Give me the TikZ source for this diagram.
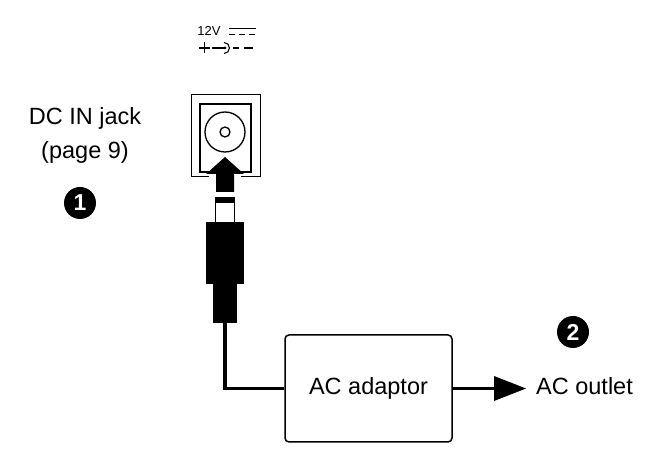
\documentclass[tikz,border=0pt]{standalone}
\usepackage{fontspec}
\setmainfont{Liberation Sans}
\begin{document}
\begin{tikzpicture}[x=1pt,y=-1pt,
  lbl/.style={font=\fontsize{23.5}{26}\selectfont, inner sep=0pt},
  num/.style={circle,fill=black,text=white,minimum size=32pt,inner sep=0pt,font=\bfseries\fontsize{23}{23}\selectfont},
  blk/.style={fill=black,draw=none}]
\useasboundingbox (0,0) rectangle (649,454);
% power symbol
\node[inner sep=0pt,font=\fontsize{13}{13}\selectfont] (v) at (209,31) {12V};
\draw[line width=1.2pt] (229,28.5) -- (256,28.5);
\draw[line width=1.2pt,dash pattern=on 6pt off 4pt] (229,34.5) -- (256,34.5);
\draw[line width=1.3pt] (199,48) -- (210,48) (204.5,42.5) -- (204.5,53.5);
\draw[line width=1.1pt] (212,48) -- (226,48);
\draw[line width=1.1pt] (224,42.5) arc[start angle=-90,end angle=90,radius=5.5];
\fill (225,48) circle (1.5);
\draw[line width=1.1pt] (233,48) -- (239,48) (244,48) -- (253,48);
% jack
\draw[line width=1pt] (191,177) -- (191,95) -- (260,95) -- (260,177);
\draw[line width=1pt] (191,177) -- (209,177) (241,177) -- (260,177);
\draw[line width=2.2pt] (210,172) -- (200,172) -- (200,104) -- (251,104) -- (251,172) -- (240,172);
\draw[line width=1.3pt] (225,132) circle (20);
\draw[line width=1.3pt] (225,132) circle (5);
% arrow
\fill (225,157) -- (244,174) -- (234,174) -- (234,192) -- (216,192) -- (216,174) -- (206,174) -- cycle;
% plug
\draw[line width=1pt] (215.5,198) rectangle (234.5,223);
\fill (215,197) rectangle (235,203);
\fill (206,222) rectangle (244,284);
\fill (213,283) rectangle (237,323);
% adaptor
\node[draw,line width=1.5pt,rounded corners=4pt,minimum width=167pt,minimum height=107pt,lbl] (ad) at (368.5,388.5) {AC adaptor};
\draw[line width=3.5pt] (225,322) |- (ad.west);
\draw[line width=3.5pt] (ad.east) -- (495,388.5);
\fill (494,376) -- (526,388.5) -- (494,401) -- cycle;
\node[lbl,anchor=west] (aco) at (536,386) {AC outlet};
% labels
\node[lbl] (dc) at (85,118) {DC IN jack};
\node[lbl] (pg) at (85,152) {(page 9)};
\node[num] (n1) at (80,203) {1};
\node[num] (n2) at (573,332) {2};
\end{tikzpicture}
\end{document}
